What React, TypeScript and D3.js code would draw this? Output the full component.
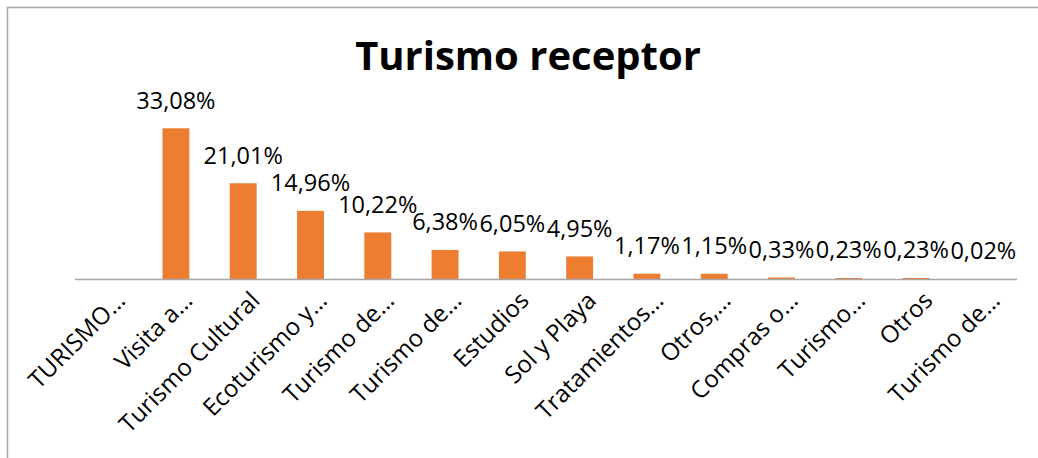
import React from "react";
import * as d3 from "d3";

const title = "Turismo receptor";
const categories = [
  "TURISMO…",
  "Visita a…",
  "Turismo Cultural",
  "Ecoturismo y…",
  "Turismo de…",
  "Turismo de… ",
  "Estudios",
  "Sol y Playa",
  "Tratamientos…",
  "Otros,…",
  "Compras o…",
  "Turismo…",
  "Otros",
  "Turismo de…  ",
];
const values: (number | null)[] = [
  null, 33.08, 21.01, 14.96, 10.22, 6.38, 6.05, 4.95, 1.17, 1.15, 0.33, 0.23, 0.23, 0.02,
];
const valueLabels = [
  "", "33,08%", "21,01%", "14,96%", "10,22%", "6,38%", "6,05%", "4,95%", "1,17%", "1,15%", "0,33%", "0,23%", "0,23%", "0,02%",
];

const W = 1038;
const H = 458;
const FONT = "'Open Sans', sans-serif";

export default function App() {
  const x = d3
    .scaleBand<string>()
    .domain(categories)
    .range([75, 1017])
    .paddingInner(0.6)
    .paddingOuter(0.3);
  const y = d3.scaleLinear().domain([0, 35]).range([279, 279 - 35 * 4.556]);
  const baseY = y(0);

  return (
    <svg
      width={W}
      height={H}
      style={{ position: "absolute", left: 0, top: 0, display: "block", background: "#fff" }}
    >
      <rect x={0} y={0} width={W} height={H} fill="#fff" />
      {/* frame */}
      <path d={`M7.5,${H + 5} V7.5 H${W + 5}`} fill="none" stroke="#a6a6a6" strokeWidth={1.5} />
      {/* title */}
      <text
        x={528}
        y={70}
        textAnchor="middle"
        fontFamily={FONT}
        fontWeight={700}
        fontSize={40}
        fill="#000"
      >
        {title}
      </text>
      {/* bars */}
      {categories.map((c, i) => {
        const v = values[i];
        if (v == null) return null;
        const bx = x(c) as number;
        const top = y(v);
        return (
          <rect
            key={"b" + i}
            x={bx}
            y={top}
            width={x.bandwidth()}
            height={baseY - top}
            fill="#ED7D31"
          />
        );
      })}
      {/* axis line */}
      <line x1={75} x2={1017} y1={baseY + 0.5} y2={baseY + 0.5} stroke="#a6a6a6" strokeWidth={1.5} />
      {/* data labels */}
      {categories.map((c, i) => {
        const v = values[i];
        if (v == null) return null;
        const cx = (x(c) as number) + x.bandwidth() / 2;
        return (
          <text
            key={"l" + i}
            x={cx}
            y={y(v) - 19.5}
            textAnchor="middle"
            fontFamily={FONT}
            fontSize={23.5}
            fill="#000"
          >
            {valueLabels[i]}
          </text>
        );
      })}
      {/* category labels */}
      {categories.map((c, i) => {
        const cx = (x(c) as number) + x.bandwidth() / 2;
        const ax = cx + 18;
        const ay = 302;
        return (
          <text
            key={"c" + i}
            x={ax}
            y={ay}
            textAnchor="end"
            transform={`rotate(-45 ${ax} ${ay})`}
            fontFamily={FONT}
            fontSize={24}
            fill="#000"
          >
            {c.trim()}
          </text>
        );
      })}
    </svg>
  );
}
